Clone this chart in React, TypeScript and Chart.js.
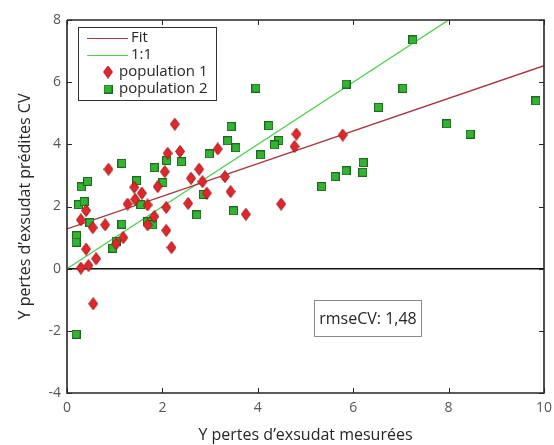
import React, { useEffect, useRef } from "react";
import { Chart, registerables } from "chart.js";

Chart.register(...registerables);

// population 1 (red diamonds)
const pop1X = [0.87, 2.26, 2.11, 2.37, 3.16, 2.05, 2.77, 2.60, 2.84, 3.31, 3.43, 1.90, 1.41, 1.57, 1.43, 1.27, 1.69, 2.54, 2.93, 2.08, 0.40, 0.29, 0.54, 0.80, 0.40, 0.29, 0.45, 0.61, 0.55, 1.18, 1.03, 1.83, 1.69, 2.08, 2.19, 3.75, 4.49, 4.81, 4.77, 5.78];
const pop1Y = [3.20, 4.65, 3.71, 3.77, 3.85, 3.12, 3.20, 2.91, 2.80, 2.96, 2.48, 2.64, 2.62, 2.43, 2.23, 2.08, 2.05, 2.10, 2.43, 1.97, 1.87, 1.57, 1.32, 1.41, 0.63, 0.02, 0.10, 0.32, -1.13, 1.00, 0.80, 1.68, 1.41, 1.23, 0.68, 1.75, 2.08, 4.33, 3.93, 4.30];

// population 2 (green squares)
const pop2X = [1.15, 1.83, 2.09, 2.40, 2.98, 3.44, 3.37, 3.54, 3.96, 4.06, 1.46, 2.01, 0.30, 0.43, 0.24, 0.36, 1.55, 0.48, 0.20, 0.19, 1.15, 1.03, 0.96, 1.69, 1.80, 2.72, 2.86, 3.49, 0.19, 7.25, 5.85, 7.04, 6.53, 9.83, 7.96, 8.45, 4.23, 4.44, 4.35, 6.21, 6.20, 5.85, 5.62, 5.34];
const pop2Y = [3.39, 3.25, 3.48, 3.44, 3.69, 4.57, 4.11, 3.89, 5.81, 3.66, 2.83, 2.77, 2.63, 2.81, 2.06, 2.16, 2.06, 1.48, 1.06, 0.85, 1.43, 0.89, 0.66, 1.51, 1.41, 1.73, 2.39, 1.86, -2.11, 7.36, 5.94, 5.80, 5.19, 5.40, 4.66, 4.33, 4.60, 4.12, 3.98, 3.41, 3.10, 3.15, 2.96, 2.64];

// lines
const fitX = [0, 10];
const fitY = [1.28, 6.53];
const oneX = [0, 10];
const oneY = [0, 10];
const zeroX = [0, 10];
const zeroY = [0, 0];

const X_MIN = 0;
const X_MAX = 10;
const Y_MIN = -4;
const Y_MAX = 8;
const xTicks = [0, 2, 4, 6, 8, 10];
const yTicks = [-4, -2, 0, 2, 4, 6, 8];
const legendLabels = ["Fit", "1:1", "population 1", "population 2"];
const rmseLabel = "rmseCV: 1,48";
const xTitle = "Y pertes d’exsudat mesurées";
const yTitle = "Y pertes d’exsudat prédites CV";

const RED_FILL = "#e3262b";
const RED_EDGE = "#9a1a1a";
const GREEN_FILL = "#34b234";
const GREEN_EDGE = "#1b6a1b";
const FIT_COLOR = "#a8363c";
const ONE_COLOR = "#4fd04f";
const AXIS_COLOR = "#262626";
const FONT = "'Open Sans', 'DejaVu Sans', sans-serif";

function makeDiamond(): HTMLCanvasElement {
  const c = document.createElement("canvas");
  c.width = 10;
  c.height = 13;
  const g = c.getContext("2d")!;
  g.beginPath();
  g.moveTo(5, 0.5);
  g.lineTo(9.5, 6.5);
  g.lineTo(5, 12.5);
  g.lineTo(0.5, 6.5);
  g.closePath();
  g.fillStyle = RED_FILL;
  g.fill();
  g.strokeStyle = RED_EDGE;
  g.lineWidth = 1;
  g.stroke();
  return c;
}

function makeSquare(): HTMLCanvasElement {
  const c = document.createElement("canvas");
  c.width = 9;
  c.height = 9;
  const g = c.getContext("2d")!;
  g.fillStyle = GREEN_FILL;
  g.fillRect(0.5, 0.5, 8, 8);
  g.strokeStyle = GREEN_EDGE;
  g.lineWidth = 1;
  g.strokeRect(0.5, 0.5, 8, 8);
  return c;
}

function zip(xs: number[], ys: number[]) {
  return xs.map((x, i) => ({ x, y: ys[i] }));
}

// plot frame built from the axis limits
const frameX = [X_MIN, X_MAX, X_MAX, X_MIN, X_MIN];
const frameY = [Y_MAX, Y_MAX, Y_MIN, Y_MIN, Y_MAX];

export default function App() {
  const ref = useRef<HTMLCanvasElement>(null);

  useEffect(() => {
    const canvas = ref.current;
    if (!canvas) return;
    const diamond = makeDiamond();
    const square = makeSquare();

    const annoPlugin = {
      id: "annotations",
      afterDatasetsDraw(chart: any) {
        const ctx: CanvasRenderingContext2D = chart.ctx;
        const xs = chart.scales.x;
        const ys = chart.scales.y;
        const a = xs.getPixelForValue(X_MIN);
        const b = xs.getPixelForValue(X_MAX);
        const c = ys.getPixelForValue(Y_MAX);
        const d = ys.getPixelForValue(Y_MIN);
        ctx.save();
        ctx.fillStyle = AXIS_COLOR;
        for (let i = 0; i < xTicks.length; i++) {
          const p = Math.round(xs.getPixelForValue(xTicks[i]));
          ctx.fillRect(p, d - 5, 1, 5);
          ctx.fillRect(p, c, 1, 5);
        }
        for (let i = 0; i < yTicks.length; i++) {
          const p = Math.round(ys.getPixelForValue(yTicks[i]));
          ctx.fillRect(a, p, 5, 1);
          ctx.fillRect(b - 5, p, 5, 1);
        }

        // legend
        const lx = 78.5, ly = 27.5, lw = 138, lh = 73;
        ctx.fillStyle = "#ffffff";
        ctx.fillRect(lx, ly, lw, lh);
        ctx.strokeStyle = "#333333";
        ctx.lineWidth = 1;
        ctx.strokeRect(lx, ly, lw, lh);
        ctx.font = `15px ${FONT}`;
        ctx.textBaseline = "middle";
        ctx.textAlign = "left";
        ctx.fillStyle = AXIS_COLOR;
        const rows = [38, 55, 72, 89];
        ctx.lineWidth = 1.2;
        ctx.strokeStyle = FIT_COLOR;
        ctx.beginPath();
        ctx.moveTo(87, rows[0] + 0.5);
        ctx.lineTo(128, rows[0] + 0.5);
        ctx.stroke();
        ctx.strokeStyle = ONE_COLOR;
        ctx.beginPath();
        ctx.moveTo(87, rows[1] + 0.5);
        ctx.lineTo(128, rows[1] + 0.5);
        ctx.stroke();
        ctx.drawImage(diamond, 108 - diamond.width / 2, rows[2] - diamond.height / 2);
        ctx.drawImage(square, 108 - square.width / 2, rows[3] - square.height / 2);
        ctx.fillText(legendLabels[0], 131, rows[0]);
        ctx.fillText(legendLabels[1], 131, rows[1]);
        ctx.fillText(legendLabels[2], 119, rows[2]);
        ctx.fillText(legendLabels[3], 119, rows[3]);

        // rmse box
        ctx.fillStyle = "#ffffff";
        ctx.fillRect(314.5, 300.5, 107, 36);
        ctx.strokeStyle = "#8a8a8a";
        ctx.lineWidth = 1;
        ctx.strokeRect(314.5, 300.5, 107, 36);
        ctx.fillStyle = AXIS_COLOR;
        ctx.font = `16px ${FONT}`;
        ctx.textAlign = "center";
        ctx.fillText(rmseLabel, 368, 319);
        ctx.restore();
      },
    };

    const chart = new Chart(canvas, {
      type: "scatter",
      data: {
        datasets: [
          {
            label: legendLabels[2],
            data: zip(pop1X, pop1Y),
            pointStyle: diamond as any,
            order: 0,
          },
          {
            label: legendLabels[3],
            data: zip(pop2X, pop2Y),
            pointStyle: square as any,
            order: 0,
          },
          {
            label: legendLabels[0],
            data: zip(fitX, fitY),
            showLine: true,
            borderColor: FIT_COLOR,
            borderWidth: 1.3,
            pointRadius: 0,
            order: 2,
          },
          {
            label: legendLabels[1],
            data: zip(oneX, oneY),
            showLine: true,
            borderColor: ONE_COLOR,
            borderWidth: 1.3,
            pointRadius: 0,
            order: 2,
          },
          {
            label: "zero",
            data: zip(zeroX, zeroY),
            showLine: true,
            borderColor: "#111111",
            borderWidth: 1.5,
            pointRadius: 0,
            order: 3,
          },
          {
            label: "frame",
            data: zip(frameX, frameY),
            showLine: true,
            borderColor: AXIS_COLOR,
            borderWidth: 1.6,
            pointRadius: 0,
            clip: 4 as any,
            order: 1,
          },
        ],
      },
      options: {
        responsive: false,
        animation: false,
        layout: { padding: { left: 0, right: 0, top: 20, bottom: 0 } },
        plugins: {
          legend: { display: false },
          tooltip: { enabled: false },
        },
        scales: {
          x: {
            type: "linear",
            min: X_MIN,
            max: X_MAX,
            afterBuildTicks: (s: any) => {
              s.ticks = xTicks.map((v) => ({ value: v }));
            },
            afterFit: (s: any) => {
              s.height = 52;
              s.paddingRight = 10;
              s.paddingLeft = 0;
            },
            grid: { display: false, drawTicks: false },
            border: { display: false },
            ticks: {
              color: "#555555",
              padding: 7,
              font: { family: FONT, size: 14 },
            },
            title: {
              display: true,
              text: xTitle,
              color: AXIS_COLOR,
              font: { family: FONT, size: 16 },
              padding: { top: 0, bottom: 0 },
            },
          },
          y: {
            type: "linear",
            min: Y_MIN,
            max: Y_MAX,
            afterBuildTicks: (s: any) => {
              s.ticks = yTicks.map((v) => ({ value: v }));
            },
            afterFit: (s: any) => {
              s.width = 67;
              s.paddingTop = 0;
              s.paddingBottom = 0;
            },
            grid: { display: false, drawTicks: false },
            border: { display: false },
            ticks: {
              color: "#555555",
              padding: 6,
              font: { family: FONT, size: 14 },
            },
            title: {
              display: true,
              text: yTitle,
              color: AXIS_COLOR,
              font: { family: FONT, size: 16 },
              padding: { top: 16, bottom: 0 },
            },
          },
        },
      },
      plugins: [annoPlugin],
    });

    return () => chart.destroy();
  }, []);

  return (
    <div style={{ position: "absolute", left: 0, top: 0, width: 554, height: 445 }}>
      <canvas ref={ref} width={554} height={445} />
    </div>
  );
}
